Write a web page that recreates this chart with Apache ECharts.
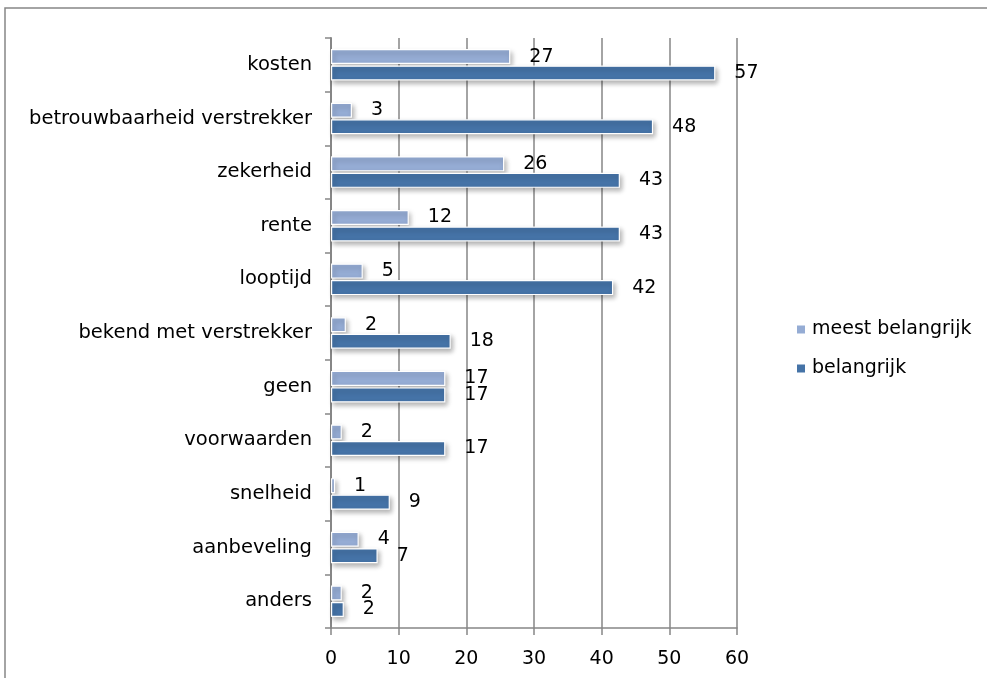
<!DOCTYPE html>
<html>
<head>
<meta charset="utf-8">
<script src="https://cdn.jsdelivr.net/npm/echarts@6/dist/echarts.min.js"></script>
<style>
html,body{margin:0;padding:0;background:#fff;}
#chart{width:987px;height:678px;}
</style>
</head>
<body>
<div id="chart"></div>
<script>
const categories = ['kosten','betrouwbaarheid verstrekker','zekerheid','rente','looptijd','bekend met verstrekker','geen','voorwaarden','snelheid','aanbeveling','anders'];
const seriesNames = ['meest belangrijk','belangrijk'];
const meestBelangrijk = [26.5, 3.1, 25.6, 11.5, 4.7, 2.2, 16.9, 1.6, 0.6, 4.1, 1.6];
const belangrijk = [56.8, 47.6, 42.7, 42.7, 41.7, 17.7, 16.9, 16.9, 8.7, 6.9, 1.9];
const xTicks = [0, 10, 20, 30, 40, 50, 60];

const FONT = 'DejaVu Sans';
const gray = '#868686';
const colors = ['#95acd4', '#4573a7'];

const chart = echarts.init(document.getElementById('chart'), null, {renderer:'canvas'});

function barSeries(name, data, color){
  return {
    name: name,
    type: 'bar',
    data: data,
    barWidth: 15,
    barGap: '10%',
    itemStyle: {
      color: color,
      borderColor: '#ffffff',
      borderWidth: 1.2,
      shadowColor: 'rgba(0,0,0,0.3)',
      shadowBlur: 5,
      shadowOffsetX: 2,
      shadowOffsetY: 3
    },
    label: {
      show: true,
      position: 'right',
      distance: 19,
      color: '#000',
      fontFamily: FONT,
      fontSize: 19,
      formatter: p => Math.round(p.value)
    },
    emphasis: {disabled: true},
    animation: false
  };
}

chart.setOption({
  animation: false,
  color: colors,
  graphic: [{
    type: 'rect',
    shape: {x: 5, y: 8, width: 1200, height: 900},
    style: {fill: 'none', stroke: gray, lineWidth: 1.5},
    silent: true,
    z: -10
  }],
  grid: {left: 331, right: 250, top: 38, bottom: 50},
  legend: {
    orient: 'vertical',
    left: 792,
    top: 315,
    itemWidth: 8,
    itemHeight: 8,
    itemGap: 20,
    icon: 'rect',
    data: seriesNames,
    itemStyle: {borderWidth: 0, shadowBlur: 0, shadowOffsetX: 0, shadowOffsetY: 0},
    textStyle: {fontFamily: FONT, fontSize: 19, color: '#000', padding: [0,0,0,2]}
  },
  xAxis: {
    type: 'value',
    min: xTicks[0],
    max: xTicks[xTicks.length - 1],
    interval: 10,
    axisLine: {show: true, lineStyle: {color: gray, width: 1.5}},
    axisTick: {show: true, length: 7, lineStyle: {color: gray, width: 1.5}},
    splitLine: {show: true, lineStyle: {color: gray, width: 1.5}},
    axisLabel: {color: '#000', fontFamily: FONT, fontSize: 19, margin: 22}
  },
  yAxis: {
    type: 'category',
    data: categories,
    inverse: true,
    axisLine: {show: true, lineStyle: {color: gray, width: 2}},
    axisTick: {show: true, length: 6, lineStyle: {color: gray, width: 1.5}},
    axisLabel: {color: '#000', fontFamily: FONT, fontSize: 19.5, margin: 19}
  },
  series: [
    barSeries(seriesNames[0], meestBelangrijk, colors[0]),
    barSeries(seriesNames[1], belangrijk, colors[1])
  ]
});
</script>
</body>
</html>
